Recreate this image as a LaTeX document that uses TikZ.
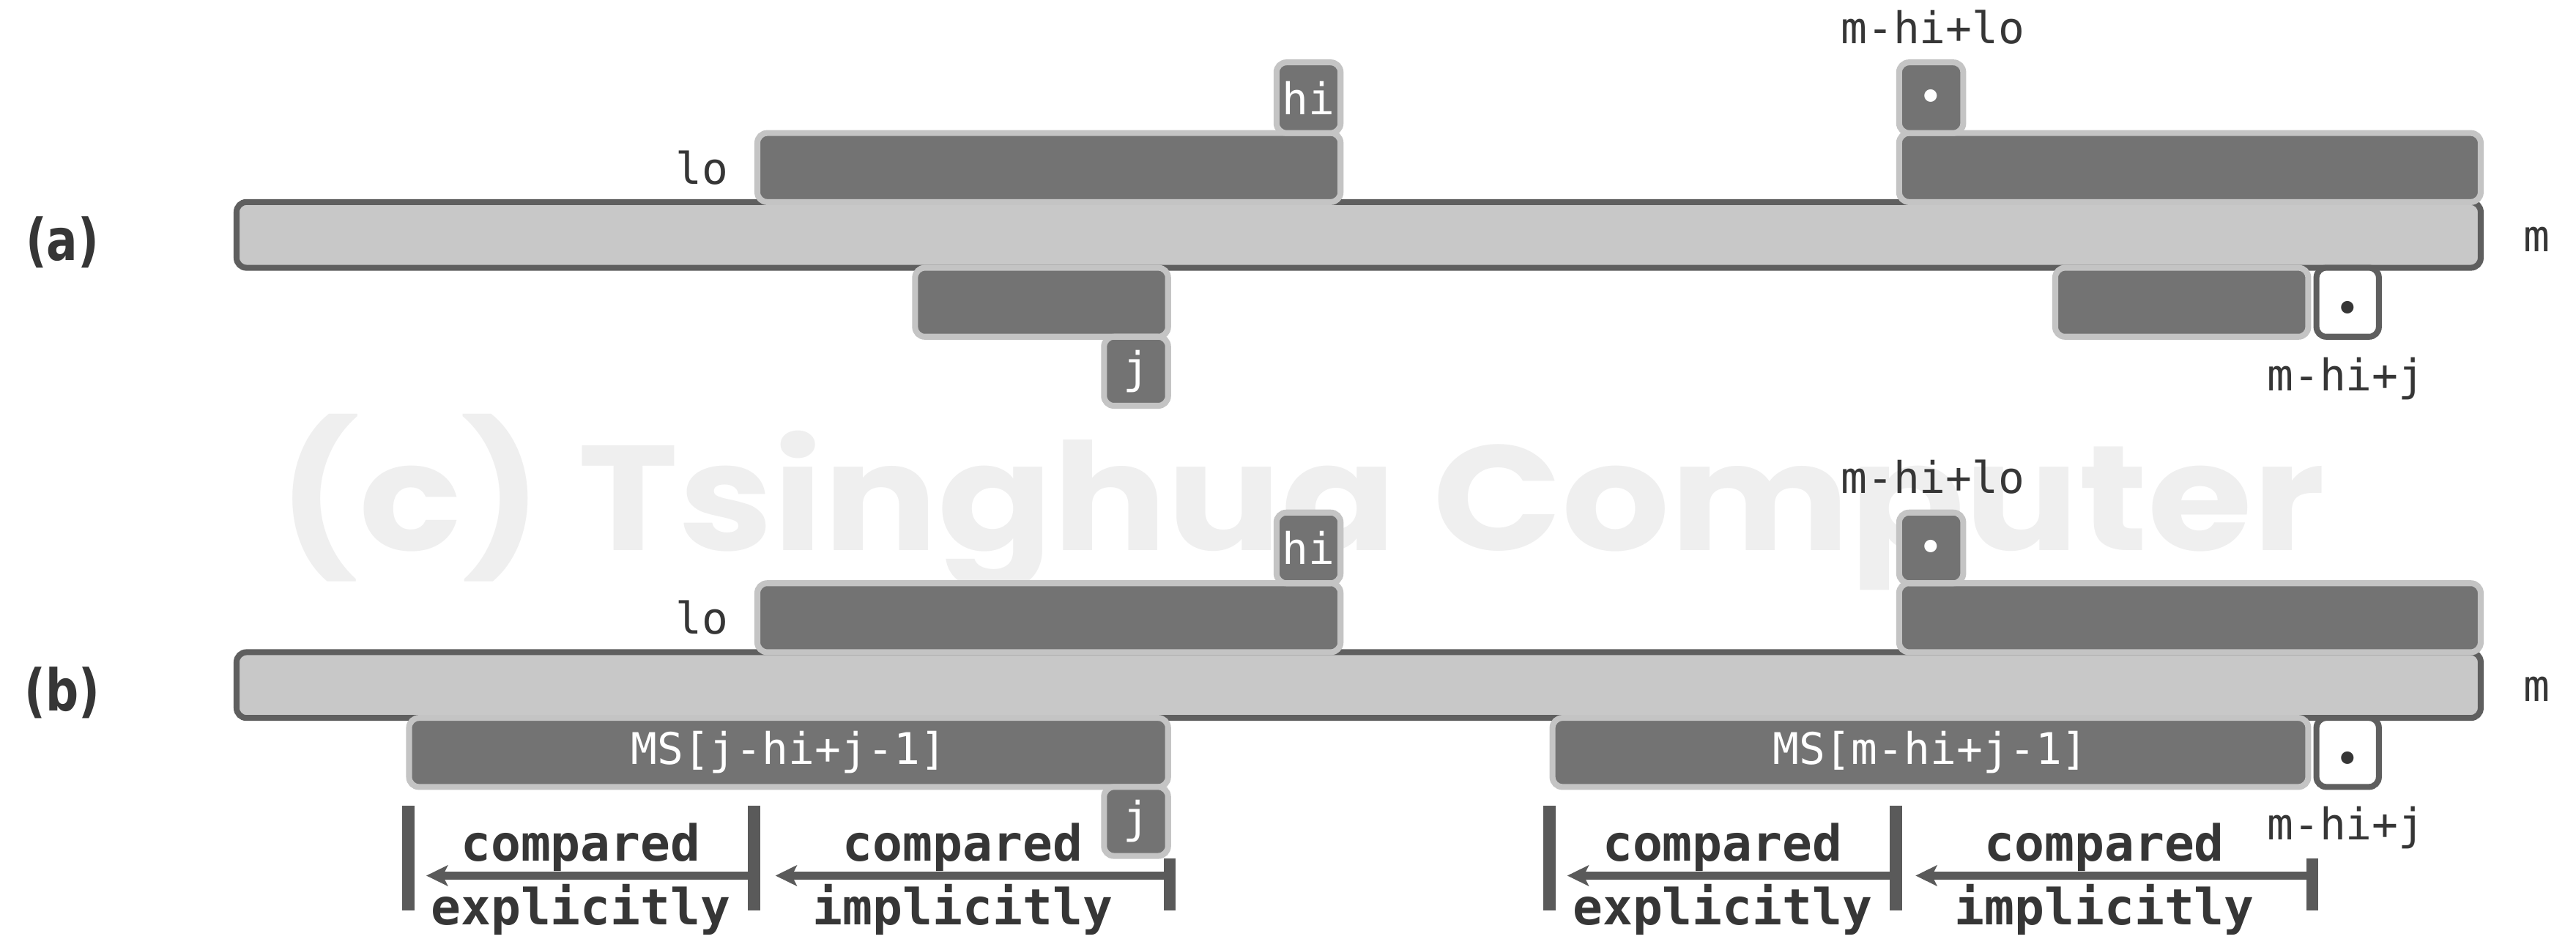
\documentclass[tikz,border=0pt]{standalone}
\usepackage{fontspec}
\usepackage{graphicx}
\usetikzlibrary{arrows.meta}
\newfontfamily\dvmono{DejaVu Sans Mono}
\newfontfamily\dvsans{DejaVu Sans}
\newfontfamily\wmfont{Poppins}
\definecolor{barfill}{HTML}{C8C8C8}
\definecolor{barline}{HTML}{5F5F5F}
\definecolor{blkfill}{HTML}{737373}
\definecolor{blkline}{HTML}{C4C4C4}
\definecolor{txt}{HTML}{363636}
\definecolor{wmcol}{HTML}{EFEFEF}
\definecolor{ink}{HTML}{5A5A5A}
\tikzset{
  mainbar/.style={draw=barline, fill=barfill, line width=0.36mm, rounded corners=0.6mm, inner sep=0pt, minimum width=136.6mm, minimum height=4mm},
  blk/.style={draw=blkline, fill=blkfill, line width=0.36mm, rounded corners=0.6mm, inner sep=0pt, text=white, font=\dvmono\fontsize{7.56}{9}\selectfont},
  whiteblk/.style={draw=barline, fill=white, line width=0.36mm, rounded corners=0.6mm, inner sep=0pt},
  dotmark/.style={inner sep=0pt, anchor=base, font=\rmfamily\bfseries\fontsize{15}{15}\selectfont},
  lbl/.style={inner sep=0pt, text=txt, font=\dvmono\fontsize{7.56}{9}\selectfont},
  cmp/.style={inner sep=0pt, text=txt, font=\dvmono\bfseries\fontsize{8.62}{10}\selectfont},
  panel/.style={inner sep=0pt, text=txt, font=\dvsans\bfseries\fontsize{10}{12}\selectfont},
  vbar/.style={draw=ink, line width=0.75mm},
  arr/.style={draw=ink, line width=0.45mm, -{Stealth[length=1.3mm,width=1.25mm,inset=0.3mm]}},
}
\begin{document}
\begin{tikzpicture}[x=0.1mm, y=-0.1mm]
\fill[white] (0,0) rectangle (1568,578);
\useasboundingbox (0,0) rectangle (1568,578);
% watermark
\node[anchor=base west, inner sep=0pt, text=wmcol] (wmk) at (168.5,335) {\resizebox{124.6mm}{8.3mm}{\wmfont\bfseries (c) Tsinghua Computer}};

% ---------- panel (a) ----------
\node[panel] (pa) at (38,147.5) {\scalebox{0.8}[1]{(a)}};
\node[mainbar] (barA) at (827,143) {};
\node[blk, minimum width=35.5mm, minimum height=4.2mm] (topAa) at (638.5,102) {};
\node[blk, minimum width=3.9mm, minimum height=4.3mm] (hiA) at (796.5,59.5) {hi};
\node[blk, minimum width=35.4mm, minimum height=4.2mm] (topBa) at (1333,102) {};
\node[blk, minimum width=3.9mm, minimum height=4.3mm] (dotA) at (1175.5,59.5) {};
\node[dotmark, text=white] (dotAt) at (1175.5,76.5) {·};
\node[blk, minimum width=15.4mm, minimum height=4.2mm] (botAa) at (634,184) {};
\node[blk, minimum width=3.9mm, minimum height=4.2mm] (jA) at (691.5,226) {j};
\node[blk, minimum width=15.4mm, minimum height=4.2mm] (botBa) at (1328,184) {};
\node[whiteblk, minimum width=3.8mm, minimum height=4.2mm] (whA) at (1429,184) {};
\node[dotmark, text=txt] (whAt) at (1429,205.5) {·};
\node[lbl, anchor=base east] (loA) at (444,112) {lo};
\node[lbl, anchor=base] (mhloA) at (1176.5,26.5) {m-hi+lo};
\node[lbl, anchor=base] (mA) at (1544,153) {m};
\node[lbl, anchor=base] (mhjA) at (1428,238) {m-hi+j};

% ---------- panel (b) ----------
\node[panel] (pb) at (38,421.5) {\scalebox{0.8}[1]{(b)}};
\node[mainbar] (barB) at (827,417) {};
\node[blk, minimum width=35.5mm, minimum height=4.2mm] (topAb) at (638.5,376) {};
\node[blk, minimum width=3.9mm, minimum height=4.3mm] (hiB) at (796.5,333.5) {hi};
\node[blk, minimum width=35.4mm, minimum height=4.2mm] (topBb) at (1333,376) {};
\node[blk, minimum width=3.9mm, minimum height=4.3mm] (dotB) at (1175.5,333.5) {};
\node[dotmark, text=white] (dotBt) at (1175.5,350.5) {·};
\node[blk, minimum width=46.2mm, minimum height=4.2mm] (ms1) at (480,458) {MS[j-hi+j-1]};
\node[blk, minimum width=3.9mm, minimum height=4.2mm] (jB) at (691.5,500) {j};
\node[blk, minimum width=46.0mm, minimum height=4.2mm] (ms2) at (1175,458) {MS[m-hi+j-1]};
\node[whiteblk, minimum width=3.8mm, minimum height=4.2mm] (whB) at (1429,458) {};
\node[dotmark, text=txt] (whBt) at (1429,479.5) {·};
\node[lbl, anchor=base east] (loB) at (444,386) {lo};
\node[lbl, anchor=base] (mhloB) at (1176.5,300.5) {m-hi+lo};
\node[lbl, anchor=base] (mB) at (1544,427) {m};
\node[lbl, anchor=base] (mhjB) at (1428,511) {m-hi+j};

% bars and arrows, left
\draw[vbar] (248.5,490.5) -- (248.5,554);
\draw[vbar] (459,490.5) -- (459,554);
\draw[vbar] (712,522.5) -- (712,554);
\coordinate (bL1) at (248.5,533);
\coordinate (bM1) at (459,533);
\coordinate (bR1) at (712,533);
\draw[arr] (bM1) -- ([xshift=1.1mm]bL1);
\draw[arr] (bR1) -- ([xshift=1.3mm]bM1);
\node[cmp, anchor=base] (c1) at (353.5,524) {compared};
\node[cmp, anchor=base] (e1) at (353.5,563) {explicitly};
\node[cmp, anchor=base] (c2) at (586,524) {compared};
\node[cmp, anchor=base] (i2) at (586,563) {implicitly};

% bars and arrows, right
\draw[vbar] (943,490.5) -- (943,554);
\draw[vbar] (1154,490.5) -- (1154,554);
\draw[vbar] (1407.5,522.5) -- (1407.5,554);
\coordinate (bL2) at (943,533);
\coordinate (bM2) at (1154,533);
\coordinate (bR2) at (1407.5,533);
\draw[arr] (bM2) -- ([xshift=1.1mm]bL2);
\draw[arr] (bR2) -- ([xshift=1.2mm]bM2);
\node[cmp, anchor=base] (c3) at (1048.5,524) {compared};
\node[cmp, anchor=base] (e3) at (1048.5,563) {explicitly};
\node[cmp, anchor=base] (c4) at (1281,524) {compared};
\node[cmp, anchor=base] (i4) at (1281,563) {implicitly};
\end{tikzpicture}
\end{document}
